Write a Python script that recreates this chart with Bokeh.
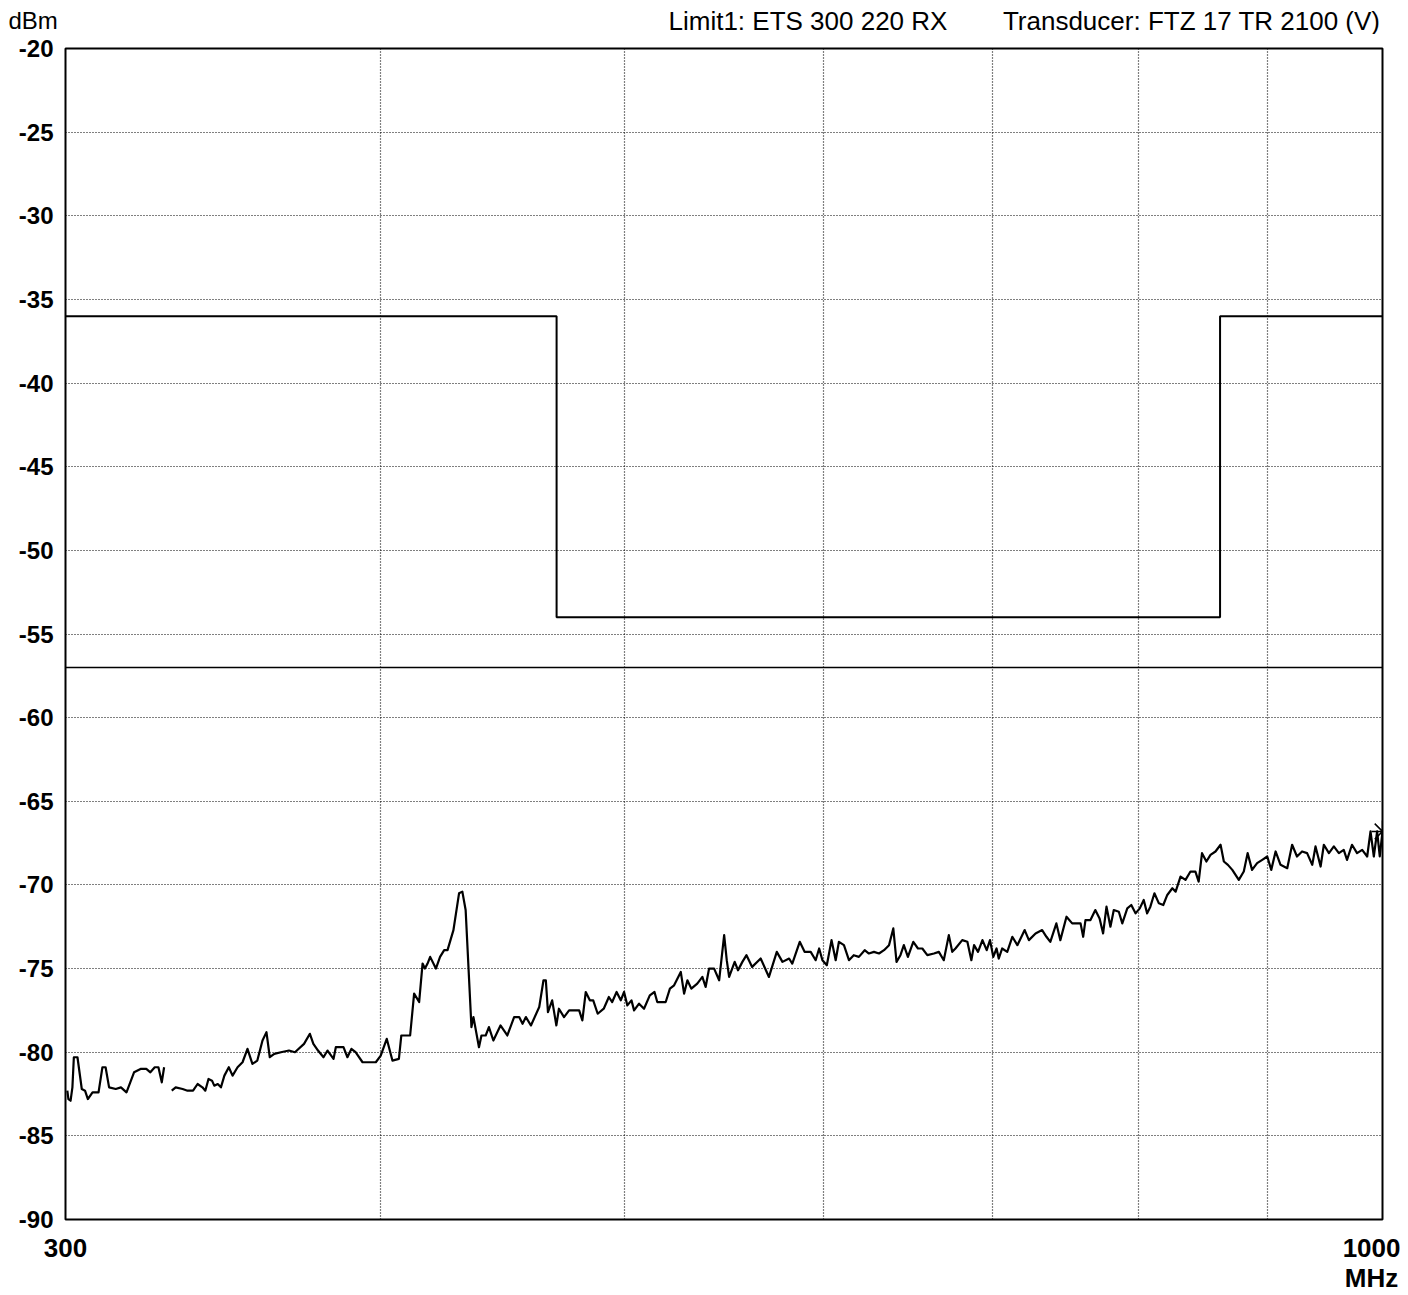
import numpy as np
from bokeh.plotting import figure
from bokeh.layouts import column
from bokeh.models import FixedTicker, PrintfTickFormatter, Range1d
from bokeh.core.properties import value
from bokeh.embed import file_html
from bokeh.resources import INLINE

# ---------------- data ----------------
y_ticks = [-90, -85, -80, -75, -70, -65, -60, -55, -50, -45, -40, -35, -30, -25, -20]
x_ticks = [300, 1000]
x_tick_labels = {300: "300", 1000: "1000\nMHz"}
x_grid = [400, 500, 600, 700, 800, 900]

y_unit = "dBm"
header_left = "Limit1: ETS 300 220 RX"
header_right = "Transducer: FTZ 17 TR 2100 (V)"

limit_mhz = [300, 470, 470, 862, 862, 1000]
limit_dbm = [-36, -36, -54, -54, -36, -36]

level_mhz = [300, 1000]
level_dbm = [-57, -57]

nan = float("nan")

mhz_a = [300.5, 300.8, 301.4, 301.9, 302.3, 303.3, 304.5, 305.4, 306.2, 307.5, 309.2,
         310.3, 311.2, 312.2, 314.1, 315.6, 317.2, 319.4, 321.3, 323.0, 324.2, 325.5, 326.6, 327.6, 328.3,
         329.5,
         330.6, 331.8, 333.9, 335.4, 337.1, 338.5, 340.0, 340.9, 341.9, 343.0, 343.7, 344.8, 345.8, 346.9,
         348.3, 349.5, 351.1, 352.7, 354.3, 355.9, 357.5, 359.2, 360.5, 361.6, 363.1, 365.3, 368.0, 370.0]
dbm_a = [-82.3, -82.8, -82.9, -82.1, -80.3, -80.3, -82.2, -82.3, -82.8, -82.4, -82.4,
         -80.9, -80.9, -82.1, -82.2, -82.1, -82.4, -81.2, -81.0, -81.0, -81.2, -80.9, -80.9, -81.8, -80.9,
         nan,
         -82.3, -82.1, -82.2, -82.3, -82.3, -81.9, -82.1, -82.3, -81.6, -81.7, -82.0, -81.9, -82.1, -81.4,
         -80.9, -81.4, -80.9, -80.6, -79.8, -80.7, -80.5, -79.3, -78.8, -80.3, -80.1, -80.0, -79.9, -80.0]

mhz_b = [373.1, 375.1, 376.3, 377.9, 379.8, 381.2, 383.3, 384.1, 386.8, 388.2,
         389.6, 391.1, 393.6, 398.4, 400.2, 402.4, 404.5, 406.9, 407.8, 411.1,
         412.6, 414.5, 415.8, 416.7, 417.7, 418.7, 420.9, 422.5, 424.1, 425.4,
         427.7, 429.9, 431.2, 432.5, 434.8, 435.6, 437.8, 438.8, 440.5, 441.8,
         443.6, 446.5]
dbm_b = [-79.5, -78.9, -79.5, -79.9, -80.3, -79.9, -80.4, -79.7, -79.7, -80.3,
         -79.8, -80.0, -80.6, -80.6, -80.2, -79.2, -80.5, -80.4, -79.0, -79.0,
         -76.5, -77.0, -74.7, -75.0, -74.7, -74.3, -75.0, -74.3, -73.9, -73.9,
         -72.7, -70.5, -70.4, -71.5, -78.5, -77.9, -79.7, -79.0, -79.0, -78.5,
         -79.3, -78.4]

mhz_c = [449.3, 452.1, 454.2, 455.6, 457.0, 459.1, 462.6, 464.4, 465.4, 466.3,
         468.1, 469.9, 471.0, 473.2, 475.4, 479.8, 481.2, 482.7, 484.5, 486.0,
         488.0, 490.7, 493.0, 494.5, 496.5, 498.4, 499.9, 501.4, 503.3, 504.5,
         506.8, 509.1, 511.8, 514.0, 515.3, 519.3, 521.3, 523.3, 526.5, 528.1,
         529.7, 531.6, 534.5, 537.0, 538.6, 540.3, 542.8, 545.3]
dbm_c = [-79.0, -77.9, -77.9, -78.3, -77.9, -78.4, -77.3, -75.7, -75.7, -77.6,
         -76.9, -78.4, -77.4, -77.9, -77.5, -77.5, -78.1, -76.4, -76.9, -76.9,
         -77.7, -77.4, -76.7, -77.0, -76.4, -76.9, -76.4, -77.2, -76.9, -77.5,
         -77.1, -77.4, -76.6, -76.4, -77.0, -77.0, -76.2, -76.0, -75.2, -76.5,
         -75.7, -76.2, -75.9, -75.5, -76.1, -75.0, -75.0, -75.7]

mhz_d = [547.8, 549.1, 550.3, 553.1, 554.8, 557.0, 559.1, 562.0, 566.4, 570.7,
         574.8, 577.8, 581.3, 583.0, 587.0, 589.6, 592.9, 595.6, 597.5, 599.3,
         601.7, 604.3, 606.6, 608.4, 611.2, 614.0, 616.7, 619.6, 622.9, 625.3,
         628.2, 631.1, 634.0, 636.9, 639.4, 641.3, 643.6, 645.6, 648.0, 651.2,
         654.0, 656.6, 659.6, 663.6, 666.6, 669.6, 672.7, 674.8, 676.8]
dbm_d = [-73.0, -74.5, -75.5, -74.6, -75.1, -74.6, -74.2, -74.9, -74.4, -75.5,
         -74.0, -74.6, -74.4, -74.7, -73.4, -74.0, -74.0, -74.5, -73.8, -74.5,
         -74.8, -73.3, -74.5, -73.4, -73.6, -74.5, -74.2, -74.3, -73.9, -74.1,
         -74.0, -74.1, -73.9, -73.6, -72.6, -74.6, -74.2, -73.6, -74.3, -73.4,
         -73.8, -73.8, -74.2, -74.1, -74.0, -74.5, -73.0, -74.0, -73.8]

mhz_e = [681.0, 684.2, 686.7, 688.4, 690.9, 693.7, 696.4, 698.5, 700.6, 702.7,
         704.1, 706.3, 709.6, 712.9, 716.2, 721.0, 723.8, 728.2, 732.6, 735.5,
         738.1, 742.2, 744.9, 749.1, 753.0, 756.5, 758.8, 760.6, 762.2, 765.7,
         769.1, 772.1, 774.6, 777.0, 779.8, 782.2, 785.8, 788.3, 791.9, 794.8,
         797.9, 801.0, 803.9, 806.4, 808.8, 811.8, 815.1, 818.4, 821.4, 825.2,
         827.7]
dbm_e = [-73.3, -73.4, -74.5, -73.6, -74.0, -73.3, -73.9, -73.3, -74.3, -73.8,
         -74.4, -73.8, -74.0, -73.1, -73.6, -72.7, -73.3, -72.9, -72.7, -73.1,
         -73.4, -72.3, -73.3, -71.9, -72.3, -72.3, -72.3, -73.1, -72.1, -72.1,
         -71.5, -72.0, -72.9, -71.3, -72.5, -71.5, -71.6, -72.3, -71.4, -71.2,
         -71.7, -71.4, -70.9, -71.7, -71.3, -70.5, -71.1, -71.2, -70.6, -70.2,
         -70.4]

mhz_f = [831.4, 835.2, 839.0, 842.8, 845.3, 847.9, 851.3, 854.5, 858.4, 862.4,
         865.0, 868.2, 871.7, 876.9, 880.9, 884.0, 887.6, 891.7, 895.9, 900.0,
         903.3, 906.9, 911.0, 916.6, 920.7, 924.8, 929.1, 933.4, 937.8, 940.6,
         945.0, 947.8, 952.2, 956.5, 960.9, 965.2, 968.1, 972.5, 977.0, 981.6,
         986.1, 989.1, 992.1, 995.1, 997.5, 1000.0]
dbm_f = [-69.5, -69.7, -69.2, -69.2, -69.8, -68.1, -68.6, -68.2, -68.0, -67.6,
         -68.6, -68.8, -69.1, -69.7, -69.2, -68.1, -69.1, -68.7, -68.5, -68.3,
         -69.1, -68.0, -68.8, -69.0, -67.6, -68.3, -68.0, -68.1, -68.8, -67.7,
         -68.9, -67.6, -68.1, -67.7, -68.1, -67.9, -68.5, -67.6, -68.1, -67.9,
         -68.3, -66.8, -68.3, -66.8, -68.3, -66.8]

marker_mhz = [1000]
marker_dbm = [-66.8]

trace_mhz = np.array(mhz_a + mhz_b + mhz_c + mhz_d + mhz_e + mhz_f, dtype=float)
trace_dbm = np.array(dbm_a + dbm_b + dbm_c + dbm_d + dbm_e + dbm_f, dtype=float)

# ---------------- styling ----------------
FONT = "Liberation Sans, Arial, sans-serif"
W = 1400
HEAD_H = 34
TOP_PAD = 48 - HEAD_H
BOTTOM_PAD = 75

# header strip (texts above the chart)
head = figure(width=W, height=HEAD_H, x_range=Range1d(0, W), y_range=Range1d(0, HEAD_H),
              output_backend="svg", toolbar_location=None, title=None,
              x_axis_location=None, y_axis_location=None, min_border=0)
head.outline_line_color = None
head.xgrid.visible = False
head.ygrid.visible = False
head.text(x=[8], y=[14], text=[y_unit], text_font=value(FONT), text_font_size="24px",
          text_baseline="alphabetic", text_align="left", text_color="black")
head.text(x=[668], y=[14], text=[header_left], text_font=value(FONT), text_font_size="26px",
          text_baseline="alphabetic", text_align="left", text_color="black")
head.text(x=[1380], y=[14], text=[header_right], text_font=value(FONT), text_font_size="26px",
          text_baseline="alphabetic", text_align="right", text_color="black")

# main chart
p = figure(width=W, height=TOP_PAD + 1172 + BOTTOM_PAD, x_axis_type="log",
           x_range=Range1d(300, 1000), y_range=Range1d(-90, -20),
           output_backend="svg", toolbar_location=None,
           min_border_left=65, min_border_right=18,
           min_border_top=TOP_PAD, min_border_bottom=BOTTOM_PAD)

for f in (head, p):
    if "frame_align" in f.properties():
        f.frame_align = False

p.background_fill_color = "white"
p.border_fill_color = "white"
p.outline_line_color = "black"
p.outline_line_width = 2

p.xgrid.ticker = FixedTicker(ticks=x_grid)
p.ygrid.ticker = FixedTicker(ticks=y_ticks[1:-1])
for g in (p.xgrid, p.ygrid):
    g.grid_line_color = "black"
    g.grid_line_dash = "1 2"
    g.grid_line_width = 1.2

p.yaxis.ticker = FixedTicker(ticks=y_ticks)
p.yaxis.formatter = PrintfTickFormatter(format="%d")
p.xaxis.ticker = FixedTicker(ticks=x_ticks)
p.xaxis.formatter = PrintfTickFormatter(format="%d")
p.xaxis.major_label_overrides = x_tick_labels
for ax in (p.xaxis, p.yaxis):
    ax.axis_line_color = None
    ax.major_tick_line_color = None
    ax.minor_tick_line_color = None
    ax.major_tick_out = 0
    ax.major_tick_in = 0
    ax.minor_tick_out = 0
    ax.major_label_text_font = FONT
    ax.major_label_text_font_style = "bold"
    ax.major_label_text_color = "black"
p.yaxis.major_label_text_font_size = "24px"
p.yaxis.major_label_standoff = 12
p.xaxis.major_label_text_font_size = "26px"
p.xaxis.major_label_text_line_height = 1.0
p.xaxis.major_label_standoff = 13

p.line(limit_mhz, limit_dbm, line_color="black", line_width=2)
p.line(level_mhz, level_dbm, line_color="black", line_width=1.6)

p.line(trace_mhz, trace_dbm, line_color="black", line_width=2.2, line_join="round")
p.scatter(marker_mhz, marker_dbm, marker="asterisk", size=22,
          line_color="black", line_width=1.5)

layout = column(head, p, spacing=0)
open("out.html", "w").write(file_html(layout, INLINE))
